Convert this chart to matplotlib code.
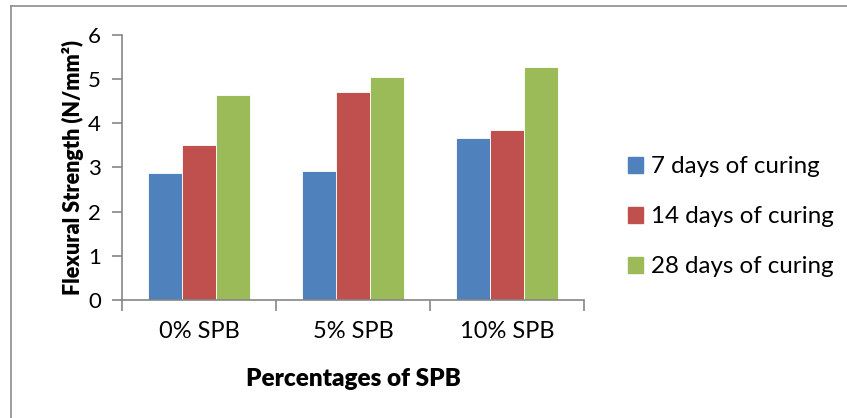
import matplotlib.pyplot as plt
import numpy as np
from matplotlib.lines import Line2D
from matplotlib.patches import Patch

categories = ["0% SPB", "5% SPB", "10% SPB"]
series_names = ["7 days of curing", "14 days of curing", "28 days of curing"]
days7 = [2.87, 2.93, 3.66]
days14 = [3.52, 4.70, 3.84]
days28 = [4.63, 5.05, 5.28]
colors = ["#4F81BD", "#C0504D", "#9BBB59"]

plt.rcParams['font.family'] = ['Lato', 'DejaVu Sans']

fig = plt.figure(figsize=(8.47, 4.18), dpi=100)
ax = fig.add_axes([0.144, 0.2823, 0.5455, 0.634])

x = np.arange(len(categories))
w = 0.22
for i, vals in enumerate([days7, days14, days28]):
    ax.bar(x + (i - 1) * w, vals, width=w, color=colors[i],
           edgecolor="white", linewidth=0.6, label=series_names[i])

ax.set_xlim(-0.5, 2.5)
ax.set_ylim(0, 6)
ax.set_yticks(range(7))
ax.set_xticks([-0.5, 0.5, 1.5, 2.5], minor=False)
ax.set_xticklabels([])
ax.set_xticks(x, minor=True)
ax.set_xticklabels(categories, minor=True, fontsize=17)
ax.tick_params(axis='x', which='minor', length=0, pad=15)
ax.tick_params(axis='x', which='major', length=8, color="#868686", width=1.2)
ax.tick_params(axis='y', length=7, color="#868686", width=1.2, labelsize=16, pad=8)

for s in ["top", "right"]:
    ax.spines[s].set_visible(False)
for s in ["left", "bottom"]:
    ax.spines[s].set_color("#868686")
    ax.spines[s].set_linewidth(1.2)

ax.set_ylabel("Flexural Strength (N/mm²)", fontsize=15.5, fontweight="heavy", labelpad=3)
ax.set_xlabel("Percentages of SPB", fontsize=17.5, fontweight="heavy", labelpad=19)

handles = [Patch(color=c) for c in colors]
fig.legend(handles, series_names, loc="upper left", bbox_to_anchor=(0.716, 0.678),
           frameon=False, fontsize=17.4, handlelength=0.6, handleheight=0.6,
           handletextpad=0.35, labelspacing=1.2)

# outer chart border (clipped at right/bottom in the reference)
fig.add_artist(Line2D([11/847, 11/847], [0, 1 - 6/418], color="#8c8c8c", lw=1.2))
fig.add_artist(Line2D([11/847, 1], [1 - 6/418, 1 - 6/418], color="#8c8c8c", lw=1.2))

fig.savefig("out.png", dpi=100)
